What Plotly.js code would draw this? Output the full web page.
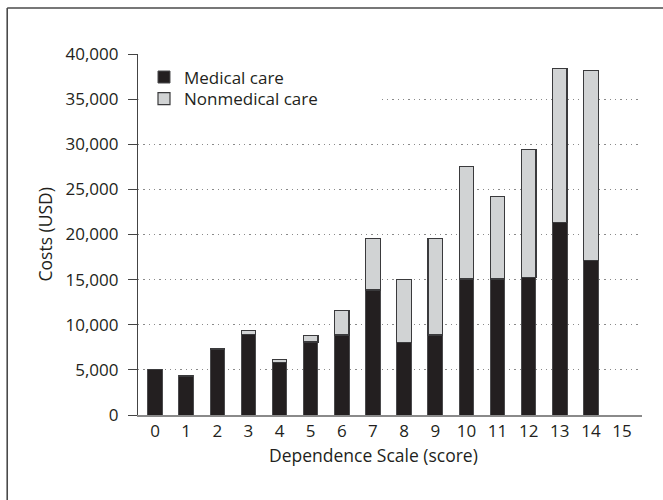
<!DOCTYPE html>
<html>
<head>
<meta charset="utf-8">
<script src="https://cdn.plot.ly/plotly-3.0.1.min.js"></script>
<style>
  html, body { margin: 0; padding: 0; background: #ffffff; }
  #chart { width: 663px; height: 500px; }
</style>
</head>
<body>
<div id="chart"></div>
<script>
// Dependence Scale scores (x categories)
const scores = [0, 1, 2, 3, 4, 5, 6, 7, 8, 9, 10, 11, 12, 13, 14];
const xTickLabels = ['0','1','2','3','4','5','6','7','8','9','10','11','12','13','14','15'];
const xTickVals = [0, 1, 2, 3, 4, 5, 6, 7, 8, 9, 10, 11, 12, 13, 14, 15];
// Costs (USD)
const medicalCare = [5050, 4330, 7320, 8950, 5830, 8100, 8860, 13840, 8000, 8870, 15060, 15060, 15200, 21300, 17090];
const nonmedicalCare = [0, 0, 0, 400, 320, 730, 2760, 5730, 6980, 10700, 12480, 9160, 14180, 17050, 21040];
const yTickVals = [0, 5000, 10000, 15000, 20000, 25000, 30000, 35000, 40000];
const seriesNames = ['Medical care', 'Nonmedical care'];

const FONT = '"Open Sans", "Noto Sans", sans-serif';
const TXT = '#231f20';

const traces = [
  {
    type: 'bar', x: scores, y: medicalCare, name: seriesNames[0],
    width: 0.466,
    marker: { color: '#231f20', line: { color: '#4a4a4c', width: 1 } },
    legend: 'legend', hoverinfo: 'x+y+name'
  },
  {
    type: 'bar', x: scores, y: nonmedicalCare, name: seriesNames[1],
    width: 0.466,
    marker: { color: '#d1d3d4', line: { color: '#3a3a3c', width: 1.2 } },
    legend: 'legend2', hoverinfo: 'x+y+name'
  }
];

const layout = {
  width: 663, height: 500,
  margin: { l: 138, r: 21.3, t: 53.5, b: 85, pad: 0 },
  paper_bgcolor: '#ffffff', plot_bgcolor: 'rgba(0,0,0,0)',
  barmode: 'stack',
  font: { family: FONT, size: 17, color: TXT },
  showlegend: true,
  xaxis: {
    type: 'linear',
    range: [-0.546, 15.64],
    tickmode: 'array', tickvals: xTickVals, ticktext: xTickLabels,
    ticks: '', showgrid: false, zeroline: false,
    showline: true, linecolor: '#8a8a8a', linewidth: 1.6,
    tickfont: { family: FONT, size: 17, color: TXT },
    fixedrange: true
  },
  yaxis: {
    range: [0, 40000],
    tickmode: 'array', tickvals: yTickVals,
    tickformat: ',d',
    ticks: 'outside', ticklen: 9, tickwidth: 1.2, tickcolor: '#444',
    ticklabelstandoff: 6,
    showline: true, linecolor: '#444', linewidth: 1.2,
    showgrid: true, gridcolor: '#8a8a8a', gridwidth: 1.3, griddash: '1.3px,4px',
    zeroline: false,
    tickfont: { family: FONT, size: 17, color: TXT },
    fixedrange: true
  },
  legend: {
    x: 0.0119, xanchor: 'left', y: 0.9350, yanchor: 'middle',
    bgcolor: 'rgba(0,0,0,0)', borderwidth: 0,
    font: { family: FONT, size: 17, color: TXT }
  },
  legend2: {
    x: 0.0119, xanchor: 'left', y: 0.8750, yanchor: 'middle',
    bgcolor: 'rgba(0,0,0,0)', borderwidth: 0,
    font: { family: FONT, size: 17, color: TXT }
  },
  shapes: [
    // white patch behind the legend that hides the dotted grid there
    { type: 'rect', layer: 'between', xref: 'x', yref: 'y',
      x0: -0.53, x1: 7.23, y0: 33300, y1: 37600,
      fillcolor: '#ffffff', line: { width: 0 } },
    // frame: left and top edges
    { type: 'line', xref: 'paper', yref: 'paper',
      x0: -0.2595, x1: -0.2595, y0: 1.1273, y1: -0.3,
      line: { color: '#4a4a4a', width: 1.6 } },
    { type: 'line', xref: 'paper', yref: 'paper',
      x0: -0.2595, x1: 1.1, y0: 1.1273, y1: 1.1273,
      line: { color: '#4a4a4a', width: 1.6 } }
  ],
  annotations: [
    { text: 'Dependence Scale (score)', xref: 'paper', yref: 'paper',
      x: 0.4666, y: -0.1107, xanchor: 'center', yanchor: 'middle',
      showarrow: false, font: { family: FONT, size: 17.5, color: TXT } },
    { text: 'Costs (USD)', xref: 'paper', yref: 'paper',
      x: -0.1846, y: 0.5, xanchor: 'center', yanchor: 'middle', textangle: -90,
      showarrow: false, font: { family: FONT, size: 17.5, color: TXT } }
  ]
};

Plotly.newPlot('chart', traces, layout, { displayModeBar: false, staticPlot: false, responsive: false });
</script>
</body>
</html>
